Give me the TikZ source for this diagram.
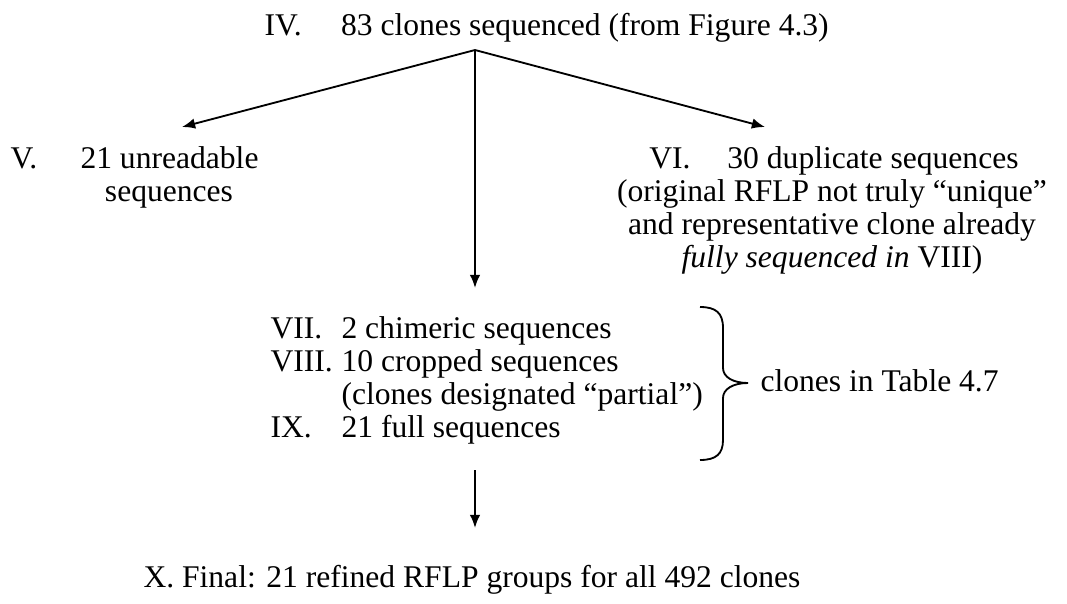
\documentclass[tikz,border=0pt]{standalone}
\usepackage{fontspec}
\setmainfont{Liberation Serif}
\usetikzlibrary{arrows.meta}
\begin{document}
\begin{tikzpicture}[x=0.38pt,y=-0.38pt,
    every node/.style={inner sep=0pt,font=\fontsize{12}{14}\selectfont},
    lbl/.style={anchor=base west},
    ctr/.style={anchor=base},
    arr/.style={-{Latex[length=5pt,width=4pt]},line width=0.7pt}]
        \useasboundingbox (0,0) rectangle (1067,603);

        % Top of the tree
        \node[lbl] (IV) at (264,35) {IV.\hspace{15pt}83 clones sequenced (from Figure 4.3)};
        \coordinate (apex) at (475,50);

        % Left and right branches
        \node[lbl] (Vnum) at (10,168) {V.};
        \node[lbl] (V1) at (80,168) {21 unreadable};
        \node[ctr] (V2) at (169,201) {sequences};

        \node[ctr] (VI1) at (834,168) {VI.\hspace{14pt}30 duplicate sequences};
        \node[ctr] (VI2) at (832,201) {(original RFLP not truly ``unique''};
        \node[ctr] (VI3) at (832,234) {and representative clone already};
        \node[ctr] (VI4) at (832,267) {\textit{fully sequenced in} VIII)};

        % Middle block
        \node[lbl] (VIInum) at (270,338) {VII.};
        \node[lbl] (VII) at (341,338) {2 chimeric sequences};
        \node[lbl] (VIIInum) at (270,371) {VIII.};
        \node[lbl] (VIII1) at (341,371) {10 cropped sequences};
        \node[lbl] (VIII2) at (341,404) {(clones designated ``partial'')};
        \node[lbl] (IXnum) at (270,437) {IX.};
        \node[lbl] (IX) at (341,437) {21 full sequences};

        \node[lbl] (table) at (760,391) {clones in Table 4.7};

        % Final line
        \node[lbl] (X) at (143,587) {X. Final: 21 refined RFLP groups for all 492 clones};

        % Arrow ends
        \coordinate (tipV) at (182,127);
        \coordinate (tipVI) at (765,127);
        \coordinate (tipVII) at (475,288);
        \coordinate (startX) at (475,470);
        \coordinate (tipX) at (475,528);

        % Draw arrows
        \draw[arr] (apex) -- (tipV);
        \draw[arr] (apex) -- (tipVI);
        \draw[arr] (apex) -- (tipVII);
        \draw[arr] (startX) -- (tipX);

        % Brace
        \draw[line width=0.7pt] (700,307) .. controls (716,307) and (723,313) .. (723,328)
            -- (723,368) .. controls (723,377) and (733,383) .. (748,383)
            .. controls (733,383) and (723,389) .. (723,398)
            -- (723,440) .. controls (723,454) and (716,460) .. (700,460);
    \end{tikzpicture}
\end{document}
